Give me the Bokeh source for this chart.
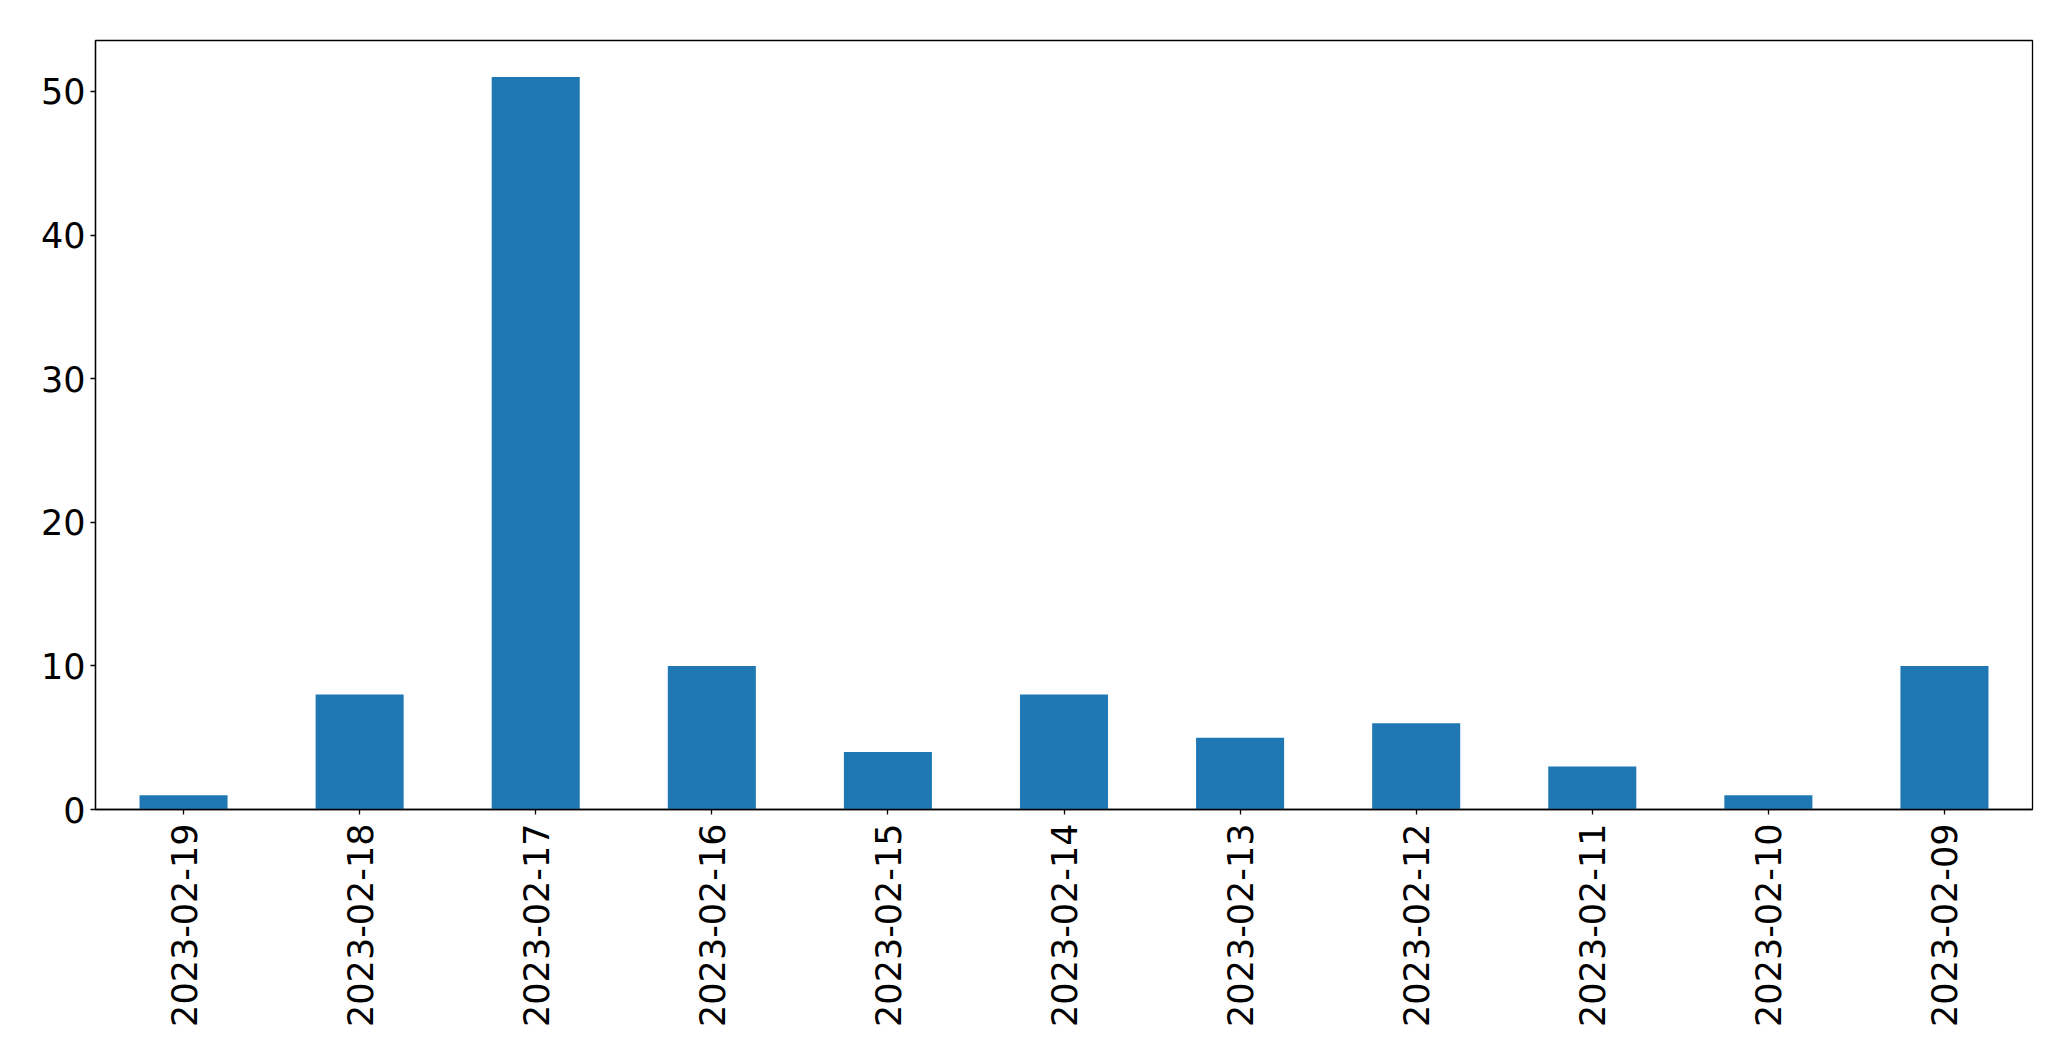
import math
from bokeh.plotting import figure
from bokeh.models import FactorRange, Range1d, FixedTicker, ColumnDataSource
from bokeh.embed import file_html
from bokeh.resources import INLINE

dates = ["2023-02-19", "2023-02-18", "2023-02-17", "2023-02-16", "2023-02-15",
         "2023-02-14", "2023-02-13", "2023-02-12", "2023-02-11", "2023-02-10",
         "2023-02-09"]
counts = [1, 8, 51, 10, 4, 8, 5, 6, 3, 1, 10]
y_ticks = [0, 10, 20, 30, 40, 50]

W, H = 2055, 1045
p = figure(width=W, height=H, output_backend="svg", toolbar_location=None,
           x_range=FactorRange(factors=dates), y_range=Range1d(0, max(counts) * 1.05))
p.min_border_left = 95
p.min_border_right = 23
p.min_border_top = 40
p.min_border_bottom = 236

src = ColumnDataSource(dict(x=dates, top=counts))
p.vbar(x="x", top="top", width=0.5, bottom=0, source=src,
       fill_color="#1f77b4", line_color=None)

p.xgrid.grid_line_color = None
p.ygrid.grid_line_color = None
p.outline_line_color = "black"
p.outline_line_width = 1.3
p.background_fill_color = "white"
p.border_fill_color = "white"

for ax in (p.xaxis[0], p.yaxis[0]):
    ax.axis_line_color = "black"
    ax.axis_line_width = 1.3
    ax.major_tick_line_color = "black"
    ax.major_tick_line_width = 1.3
    ax.major_tick_out = 5
    ax.major_tick_in = 0
    ax.minor_tick_line_color = None
    ax.major_label_text_font = "DejaVu Sans"
    ax.major_label_text_font_size = "35px"
    ax.major_label_text_color = "black"

p.yaxis[0].ticker = FixedTicker(ticks=y_ticks)
p.yaxis[0].major_label_standoff = 5
p.xaxis[0].major_label_orientation = math.pi / 2
p.xaxis[0].major_label_standoff = 9

open("out.html", "w").write(file_html(p, INLINE))
